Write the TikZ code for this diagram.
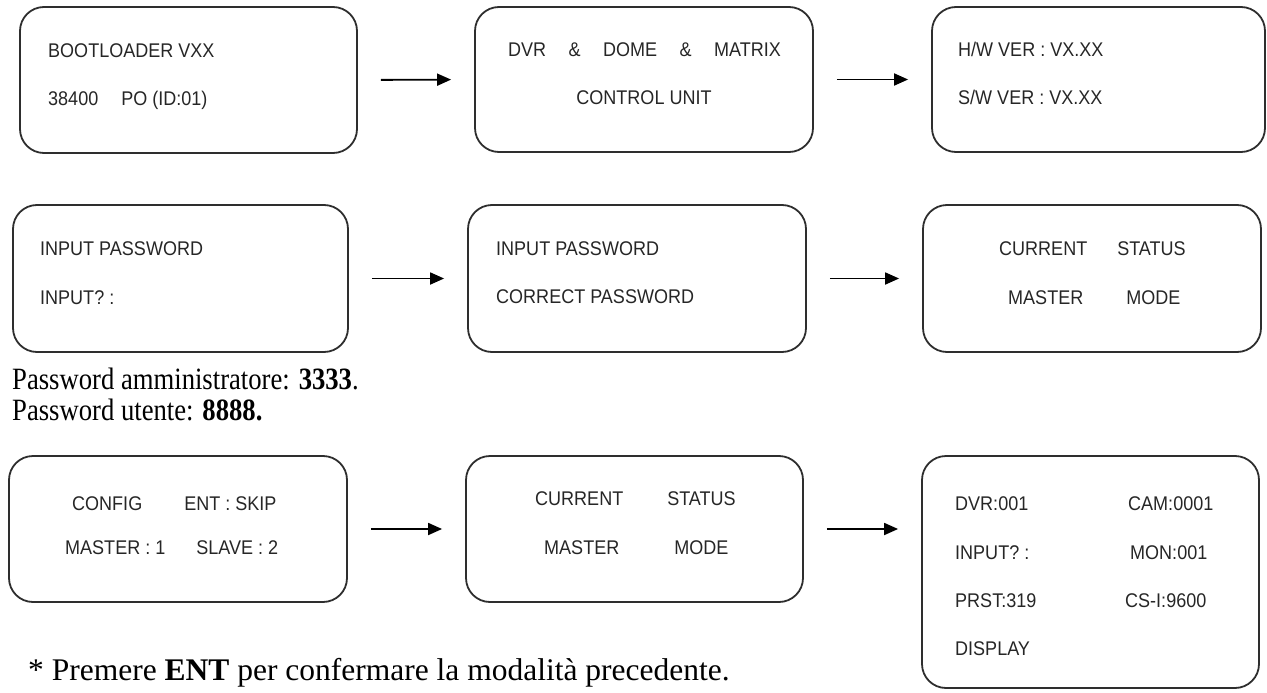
\documentclass[tikz,border=0pt]{standalone}
\usepackage{fontspec}
\setmainfont{Liberation Serif}
\newfontfamily\lcdfont[FakeStretch=0.91]{Liberation Sans}
\newfontfamily\sqserif[FakeStretch=0.86]{Liberation Serif}
\usetikzlibrary{arrows.meta}
\definecolor{lcdgray}{HTML}{262626}
\definecolor{boxgray}{HTML}{2E2E2E}
\begin{document}
\begin{tikzpicture}[x=1pt,y=-1pt,
  screen/.style={draw=boxgray, line width=1.8pt, rounded corners=24pt, inner sep=0pt},
  lcd/.style={font=\lcdfont\fontsize{19.8}{22}\selectfont, text=lcdgray, inner sep=0pt,
              text height=14.2pt, text depth=0pt, anchor=west},
  lcdc/.style={lcd, anchor=center},
  flow/.style={draw=black, line width=1.8pt, -{Triangle[length=14pt,width=12pt]},
               shorten <=23pt, shorten >=23pt},
  note/.style={font=\sqserif\fontsize{31}{33}\selectfont, inner sep=0pt, anchor=base west},
  foot/.style={font=\fontsize{31.5}{34}\selectfont, inner sep=0pt, anchor=base west}]
\useasboundingbox (0,0) rectangle (1267,693);

% screens
\node[screen, minimum width=337pt, minimum height=146pt] (b1) at (188.5,80) {};
\node[screen, minimum width=338pt, minimum height=145pt] (b2) at (644,79.5) {};
\node[screen, minimum width=333pt, minimum height=145pt] (b3) at (1098.5,79.5) {};
\node[screen, minimum width=335pt, minimum height=147pt] (b4) at (180.5,278.5) {};
\node[screen, minimum width=338pt, minimum height=147pt] (b5) at (637,278.5) {};
\node[screen, minimum width=338pt, minimum height=147pt] (b6) at (1092,278.5) {};
\node[screen, minimum width=338pt, minimum height=146pt] (b7) at (178,529) {};
\node[screen, minimum width=337pt, minimum height=146pt] (b8) at (634.5,529) {};
\node[screen, minimum width=337pt, minimum height=232pt] (b9) at (1090.5,572) {};

% arrows
\draw[flow] (b1.east) -- (b2.west);
\draw[flow] (b2.east) -- (b3.west);
\draw[flow] (b4.east) -- (b5.west);
\draw[flow] (b5.east) -- (b6.west);
\draw[flow] (b7.east) -- (b8.west);
\draw[flow] (b8.east) -- (b8.east -| b9.west);

% screen texts
\node[lcd] (t11) at (48,50) {BOOTLOADER VXX};
\node[lcd] (t12) at (48,98) {38400\hspace{23pt}PO (ID:01)};
\node[lcdc] (t21) at (644.5,49) {DVR\hspace{22.5pt}\&\hspace{22.5pt}DOME\hspace{22.5pt}\&\hspace{22.5pt}MATRIX};
\node[lcdc] (t22) at (644,97) {CONTROL UNIT};
\node[lcd] (t31) at (958,49) {H/W VER : VX.XX};
\node[lcd] (t32) at (958,97) {S/W VER : VX.XX};

\node[lcd] (t41) at (40,248) {INPUT PASSWORD};
\node[lcd] (t42) at (40,297) {INPUT? :};
\node[lcd] (t51) at (496,248) {INPUT PASSWORD};
\node[lcd] (t52) at (496,296) {CORRECT PASSWORD};
\node[lcd] (t61) at (999,248) {CURRENT\hspace{30pt}STATUS};
\node[lcd] (t62) at (1008,297) {MASTER\hspace{43pt}MODE};

\node[lcd] (t71) at (72,503) {CONFIG\hspace{42pt}ENT : SKIP};
\node[lcd] (t72) at (65,547) {MASTER : 1\hspace{31pt}SLAVE : 2};
\node[lcd] (t81) at (535,498) {CURRENT\hspace{44pt}STATUS};
\node[lcd] (t82) at (544,547) {MASTER\hspace{55pt}MODE};

\node[lcd] (t91) at (955,503) {DVR:001};
\node[lcd] (t92) at (955,552) {INPUT? :};
\node[lcd] (t93) at (955,600) {PRST:319};
\node[lcd] (t94) at (955,648) {DISPLAY};
\node[lcd] (t95) at (1128,503) {CAM:0001};
\node[lcd] (t96) at (1130,552) {MON:001};
\node[lcd] (t97) at (1125,600) {CS-I:9600};

% notes
\node[note] (n1) at (12,389) {Password amministratore: \textbf{3333}.};
\node[note] (n2) at (12,420) {Password utente: \textbf{8888.}};
\node[foot] (n3) at (28,680) {* Premere \textbf{ENT} per confermare la modalità precedente.};
\end{tikzpicture}
\end{document}
